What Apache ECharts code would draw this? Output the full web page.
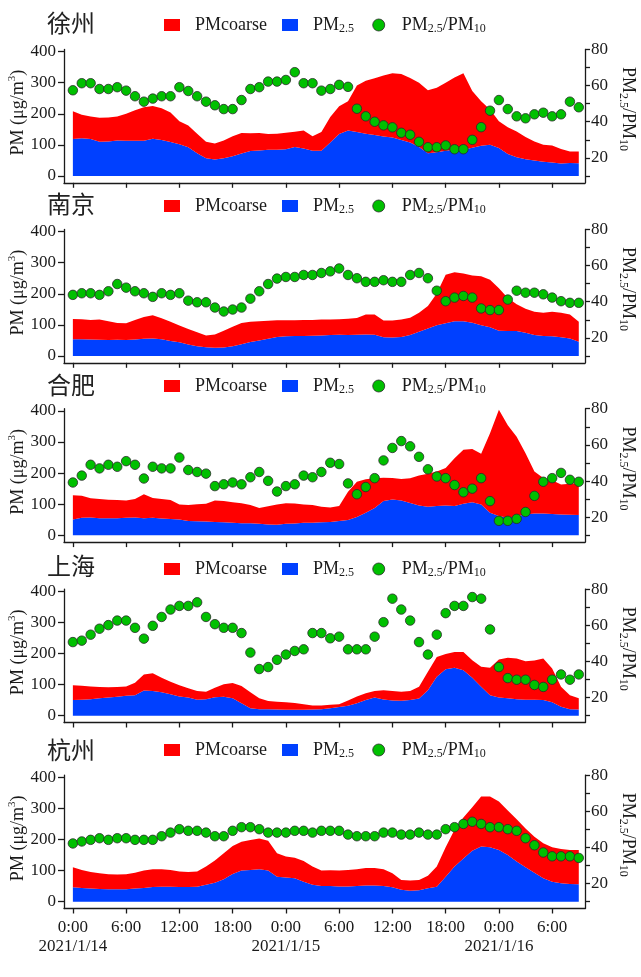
<!DOCTYPE html>
<html><head><meta charset="utf-8">
<script src="https://cdn.jsdelivr.net/npm/echarts@6/dist/echarts.min.js"></script>
<style>html,body{margin:0;padding:0;background:#fff}#chart{width:641px;height:977px}</style>
</head><body><div id="chart"></div>
<script>
// ---------- data ----------
const hours = [0,1,2,3,4,5,6,7,8,9,10,11,12,13,14,15,16,17,18,19,20,21,22,23,24,25,26,27,28,29,30,31,32,33,34,35,36,37,38,39,40,41,42,43,44,45,46,47,48,49,50,51,52,53,54,55,56,57];
const cities = ['徐州','南京','合肥','上海','杭州'];
const seriesNames = ['PMcoarse','PM2.5','PM2.5/PM10'];
const xTickValues = [0,6,12,18,24,30,36,42,48,54];
const xTickLabels = ['0:00\n2021/1/14','6:00','12:00','18:00','0:00\n2021/1/15','6:00','12:00','18:00','0:00\n2021/1/16','6:00'];
const leftTicks = [0,100,200,300,400];
const rightTicks = [10,20,30,40,50,60,70,80];
const rightLabels = [20,40,60,80];

const xuzhouPM25 = [119,121,119,110,111,114,113,113,113,120,116,109,102,92,73,57,53,57,63,72,80,82,84,84,86,93,88,81,81,108,135,146,141,136,132,127,124,116,108,93,73,76,81,84,84,91,97,100,90,71,60,54,50,46,43,40,42,41];
const xuzhouCoarse = [89,76,72,77,77,77,87,98,108,105,102,95,74,70,63,53,51,57,65,66,57,56,51,52,53,49,58,47,60,82,89,94,150,170,182,196,206,212,207,207,203,208,219,233,246,182,143,114,86,86,83,71,61,54,55,47,37,38];
const xuzhouRatio = [57.4,61.3,61.3,58.1,58.1,59.1,57.2,54.1,51.1,52.8,54.1,54.1,59.1,57.0,54.1,51.1,49.1,47.0,47.0,52.0,58.1,59.1,62.2,62.2,63.1,67.4,61.3,61.3,57.2,58.1,60.4,59.3,47.2,43.0,40.0,38.0,36.9,33.9,32.8,28.9,25.9,25.9,26.9,24.8,24.8,30.0,37.0,46.1,52.0,47.0,43.0,41.9,44.1,45.0,43.0,44.1,51.1,48.0];

const nanjingPM25 = [54,54,53,52,51,52,51,53,55,56,54,48,44,37,31,28,26,27,31,38,45,50,55,61,63,64,64,65,66,67,68,67,68,69,68,60,59,61,67,78,88,99,105,112,112,107,99,92,81,80,80,75,67,64,63,60,56,46];
const nanjingCoarse = [65,64,63,65,61,54,54,63,70,75,67,62,54,50,45,38,43,54,63,68,65,62,58,54,52,51,52,51,51,50,50,53,54,64,65,54,55,56,56,61,73,102,156,157,153,152,157,153,137,106,86,77,75,75,79,79,77,64];
const nanjingRatio = [43.8,44.7,44.7,43.8,45.8,49.8,47.8,45.8,44.7,42.7,44.7,43.8,44.7,40.6,39.7,39.7,36.8,34.6,35.7,36.8,41.7,45.8,49.8,52.8,53.7,53.7,54.8,54.8,55.9,56.8,58.4,54.8,53.0,51.0,51.0,51.9,51.0,51.0,54.8,55.9,53.0,46.1,40.3,42.3,43.2,42.3,36.3,35.4,35.4,41.2,46.1,45.0,45.0,44.1,42.3,40.3,39.4,39.4];

const hefeiPM25 = [51,56,57,55,55,55,56,57,55,56,54,52,51,46,45,44,43,42,40,39,39,37,35,34,37,38,40,40,42,43,46,49,59,72,88,110,115,112,104,96,92,94,96,94,101,106,99,72,62,56,62,67,70,70,68,67,66,65];
const hefeiCoarse = [78,71,62,62,59,58,56,60,77,64,63,61,48,51,55,57,69,68,66,64,58,51,58,65,66,64,59,57,50,46,48,91,113,108,95,75,69,69,79,96,106,111,120,154,174,171,163,256,342,298,255,197,135,114,109,96,100,103];
const hefeiRatio = [39.2,43.0,49.0,47.0,49.0,47.9,51.0,49.0,41.4,47.9,47.0,47.0,53.0,46.1,45.0,44.1,37.2,38.2,39.2,38.2,42.1,45.0,40.1,34.2,37.2,38.2,43.0,42.1,45.0,50.1,49.4,38.7,32.7,36.7,41.6,51.4,58.3,62.1,59.2,53.4,46.5,42.5,41.6,37.8,33.8,35.8,41.6,28.9,18.0,18.0,19.1,22.9,31.8,39.6,41.6,44.5,40.7,39.6];

const shanghaiPM25 = [50,51,53,56,58,61,64,66,81,79,75,69,62,58,51,53,59,61,56,40,24,21,21,20,19,19,19,20,21,24,28,32,40,50,58,52,49,48,50,55,82,125,149,154,146,122,93,66,58,56,53,51,51,50,43,29,21,20];
const shanghaiCoarse = [48,45,41,36,33,31,30,40,51,57,47,40,36,30,28,24,31,40,49,55,51,35,26,25,24,22,18,13,12,11,9,17,22,22,21,30,30,29,29,38,59,64,49,51,59,56,64,88,123,130,131,124,126,134,109,64,45,36];
const shanghaiRatio = [50.7,51.5,54.8,58.1,60.1,62.6,62.6,58.6,52.6,59.7,64.6,68.7,70.7,70.7,72.7,64.6,60.6,58.6,58.6,55.7,44.9,35.8,36.9,40.9,43.8,45.8,46.7,55.7,55.7,52.8,53.7,46.7,46.7,46.7,53.7,61.7,74.7,68.7,62.6,50.7,43.8,54.8,66.7,70.7,70.7,75.6,74.7,57.7,36.9,30.8,29.9,29.9,27.0,25.9,29.9,32.8,29.9,32.8];

const hangzhouPM25 = [46,44,42,41,40,40,40,42,44,47,48,48,47,47,48,54,61,72,89,100,102,104,100,80,78,75,64,54,50,50,49,49,50,52,52,50,46,38,35,37,43,48,80,113,139,164,177,175,166,150,129,111,93,75,64,59,57,56];
const hangzhouCoarse = [65,58,53,50,48,47,48,51,56,57,56,54,50,48,49,59,71,84,90,93,96,99,96,76,67,66,67,59,50,51,51,53,54,56,56,54,45,32,33,33,40,65,95,118,132,140,161,163,156,143,136,124,116,113,111,110,109,110];
const hangzhouRatio = [42.2,43.3,44.2,45.1,44.2,45.1,45.1,44.2,44.2,44.2,46.2,48.2,50.1,49.2,49.2,48.2,46.2,46.2,49.2,51.2,51.2,50.1,48.2,48.2,48.2,49.2,49.2,48.2,49.2,49.2,49.2,47.1,46.2,46.2,46.2,48.2,48.2,47.1,47.1,48.2,47.1,47.1,50.1,51.2,53.0,54.2,53.0,51.2,51.2,50.1,49.2,45.1,41.2,37.2,35.1,35.1,35.1,34.2];

const panelData = [
  [xuzhouPM25, xuzhouCoarse, xuzhouRatio],
  [nanjingPM25, nanjingCoarse, nanjingRatio],
  [hefeiPM25, hefeiCoarse, hefeiRatio],
  [shanghaiPM25, shanghaiCoarse, shanghaiRatio],
  [hangzhouPM25, hangzhouCoarse, hangzhouRatio]
];

// ---------- layout / style ----------
const zeroY = [176, 356, 535.3, 715.7, 901.7];
const titleCY = [24, 205, 386, 567, 751];
const legendCY = [26, 207, 387, 570, 751];
const SERIF = 'Liberation Serif';
const INK = '#1a1a1a';
const RED = '#ff0000', BLUE = '#0040ff', GREEN = '#00c000';

const lineStyle = { color: INK, width: 1.3 };
// value first, hour second: the value column is the stacked dimension
const pair = (arr) => hours.map((h, i) => [arr[i], h]);
const enc = { x: 1, y: 0 };

const grids = [], xAxes = [], yAxes = [], series = [], legends = [], titles = [];

cities.forEach((city, i) => {
  const top = zeroY[i] - 126.6;
  grids.push({ left: 64, right: 56, top: top, height: 133.4, containLabel: false, outerBoundsMode: 'none' });

  xAxes.push({
    type: 'value', gridIndex: i, min: -1, max: 57.7,
    axisLine: { show: true, onZero: false, lineStyle },
    axisTick: { show: true, customValues: xTickValues, length: 5, lineStyle },
    axisLabel: {
      show: i === 4, customValues: xTickValues,
      formatter: (v) => { const k = xTickValues.indexOf(v); return k >= 0 ? xTickLabels[k] : ''; },
      fontFamily: SERIF, fontSize: 17, color: INK, lineHeight: 19, margin: 10
    },
    splitLine: { show: false }
  });

  yAxes.push({
    type: 'value', gridIndex: i, position: 'left', min: -22, max: 407,
    axisLine: { show: true, onZero: false, lineStyle },
    axisTick: { show: true, customValues: leftTicks, length: 6, lineStyle },
    axisLabel: { customValues: leftTicks, fontFamily: SERIF, fontSize: 17, color: INK, margin: 8 },
    splitLine: { show: false },
    name: '{sp| }{a|PM (μg/m}{sup|3}{a|)}',
    nameLocation: 'middle', nameRotate: 90, nameGap: 35, nameMoveOverlap: false,
    nameTextStyle: {
      rich: {
        sp: { width: 7 },
        a: { fontFamily: SERIF, fontSize: 18, color: INK, lineHeight: 22 },
        sup: { fontFamily: SERIF, fontSize: 11, color: INK, lineHeight: 11, verticalAlign: 'top' }
      }
    }
  });

  yAxes.push({
    type: 'value', gridIndex: i, position: 'right', min: 6.24, max: 80,
    axisLine: { show: true, onZero: false, lineStyle },
    axisTick: { show: true, customValues: rightTicks, length: 5, lineStyle },
    axisLabel: { customValues: rightLabels, fontFamily: SERIF, fontSize: 17, color: INK, margin: 6 },
    splitLine: { show: false },
    name: '{a|PM}{s|2.5}{a|/PM}{s|10}{sp| }',
    nameLocation: 'middle', nameRotate: -90, nameGap: 32, nameMoveOverlap: false,
    nameTextStyle: {
      rich: {
        sp: { width: 14 },
        a: { fontFamily: SERIF, fontSize: 18, color: INK, lineHeight: 22 },
        s: { fontFamily: SERIF, fontSize: 12, color: INK, lineHeight: 12, verticalAlign: 'bottom' }
      }
    }
  });

  const [pm25, coarse, ratio] = panelData[i];
  series.push({
    name: seriesNames[1], type: 'line', xAxisIndex: i, yAxisIndex: 2 * i,
    stack: 'pm' + i, data: pair(pm25), encode: enc, showSymbol: false, symbol: 'none',
    lineStyle: { width: 0 }, itemStyle: { color: BLUE }, color: BLUE,
    areaStyle: { color: BLUE, opacity: 1 }, z: 1
  });
  series.push({
    name: seriesNames[0], type: 'line', xAxisIndex: i, yAxisIndex: 2 * i,
    stack: 'pm' + i, data: pair(coarse), encode: enc, showSymbol: false, symbol: 'none',
    lineStyle: { width: 0 }, itemStyle: { color: RED }, color: RED,
    areaStyle: { color: RED, opacity: 1 }, z: 1
  });
  series.push({
    name: seriesNames[2], type: 'scatter', xAxisIndex: i, yAxisIndex: 2 * i + 1,
    data: pair(ratio), encode: enc, symbol: 'circle', symbolSize: 9.5,
    itemStyle: { color: GREEN, borderColor: '#2a2a2a', borderWidth: 0.8, opacity: 1 }, z: 3
  });

  titles.push({
    text: city, left: 47, top: titleCY[i] - 13, padding: 0,
    textStyle: { fontFamily: 'Noto Sans CJK SC', fontSize: 24, fontWeight: 'normal', color: '#222' }
  });

  legends.push({
    left: 164, top: legendCY[i] - 10, padding: 0, itemGap: 15,
    itemWidth: 16, itemHeight: 12, selectedMode: false,
    data: [
      { name: seriesNames[0], icon: 'rect', itemStyle: { borderWidth: 0 } },
      { name: seriesNames[1], icon: 'rect', itemStyle: { borderWidth: 0 } },
      { name: seriesNames[2], icon: 'circle', itemStyle: { borderColor: '#2a2a2a', borderWidth: 0.8 } }
    ],
    formatter: (name) => {
      if (name === 'PMcoarse') return '{sp| }{a|PMcoarse}';
      if (name === 'PM2.5') return '{sp| }{a|PM}{s|2.5}{sp2| }';
      return '{sp| }{a|PM}{s|2.5}{a|/PM}{s|10}';
    },
    textStyle: {
      rich: {
        sp: { width: 10 },
        sp2: { width: 4 },
        a: { fontFamily: SERIF, fontSize: 18, color: INK, lineHeight: 20 },
        s: { fontFamily: SERIF, fontSize: 12, color: INK, lineHeight: 12, verticalAlign: 'bottom' }
      }
    }
  });
});

const chart = echarts.init(document.getElementById('chart'), null, { renderer: 'canvas' });
chart.setOption({
  animation: false,
  backgroundColor: '#ffffff',
  title: titles,
  legend: legends,
  grid: grids,
  xAxis: xAxes,
  yAxis: yAxes,
  series: series
});
</script>
</body></html>
